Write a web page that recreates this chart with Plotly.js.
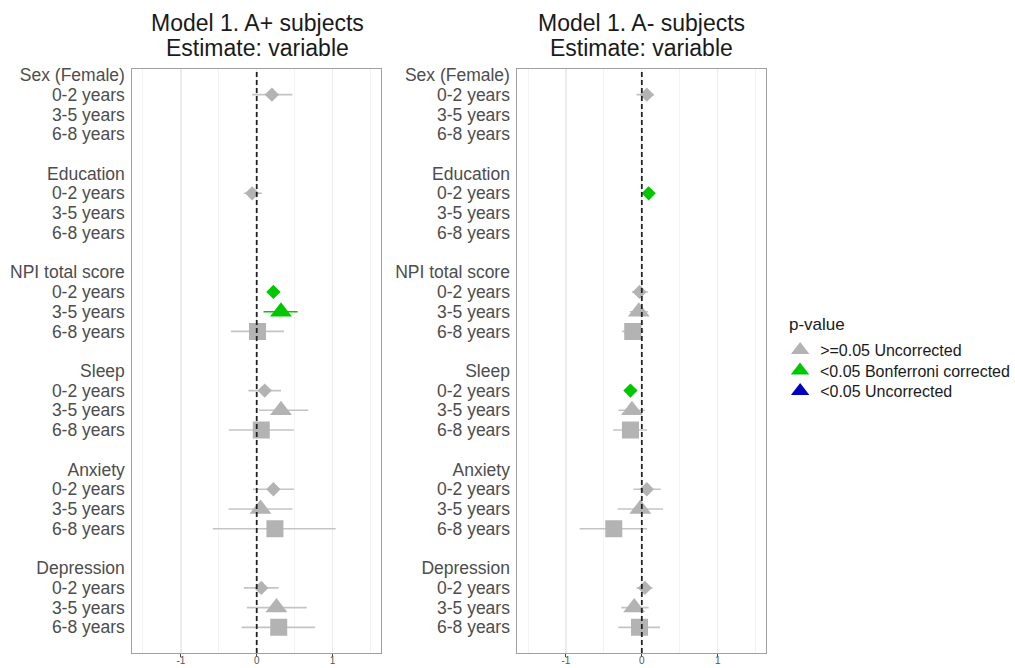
<!DOCTYPE html>
<html>
<head>
<meta charset="utf-8">
<script src="https://cdn.plot.ly/plotly-3.0.1.min.js"></script>
<style>html,body{margin:0;padding:0;background:#fff;}</style>
</head>
<body>
<div id="chart" style="width:1015px;height:668px;"></div>
<script>
// ---- data ----
const variables = ['Sex (Female)', 'Education', 'NPI total score', 'Sleep', 'Anxiety', 'Depression'];
const periods = ['0-2 years', '3-5 years', '6-8 years'];
const panelTitles = ['Model 1. A+ subjects', 'Model 1. A- subjects'];
const subTitle = 'Estimate: variable';
const legendTitle = 'p-value';
const pCategories = ['>=0.05 Uncorrected', '<0.05 Bonferroni corrected', '<0.05 Uncorrected'];
const xTicks = [-1, 0, 1];

// order: variable-major, period-minor (null = not estimated)
const estAplus = [0.20, null, null, -0.06, null, null, 0.22, 0.32, 0.01, 0.105, 0.32, 0.06, 0.22, 0.05, 0.24, 0.06, 0.26, 0.29];
const lowAplus = [-0.06, null, null, -0.17, null, null, 0.14, 0.09, -0.34, -0.11, 0.03, -0.37, -0.05, -0.37, -0.58, -0.17, -0.13, -0.20];
const highAplus = [0.47, null, null, 0.07, null, null, 0.30, 0.54, 0.36, 0.32, 0.68, 0.49, 0.49, 0.47, 1.04, 0.29, 0.66, 0.77];
const pcatAplus = [0, 0, 0, 0, 0, 0, 1, 1, 0, 0, 0, 0, 0, 0, 0, 0, 0, 0];

const estAminus = [0.066, null, null, 0.09, null, null, -0.03, -0.04, -0.12, -0.15, -0.13, -0.15, 0.066, -0.02, -0.37, 0.04, -0.10, -0.03];
const lowAminus = [-0.07, null, null, 0.03, null, null, -0.13, -0.16, -0.26, -0.22, -0.31, -0.38, -0.11, -0.32, -0.82, -0.07, -0.27, -0.31];
const highAminus = [0.16, null, null, 0.15, null, null, 0.08, 0.08, 0.02, -0.08, 0.04, 0.07, 0.25, 0.28, 0.07, 0.14, 0.09, 0.24];
const pcatAminus = [0, 0, 0, 1, 0, 0, 0, 0, 0, 1, 0, 0, 0, 0, 0, 0, 0, 0];

// ---- styles ----
const catColors = ['#b3b3b3', '#00c800', '#0000c0'];
const barColors = ['#c4c4c4', '#00c800', '#0000c0'];
const symbols = ['diamond', 'triangle-up', 'square'];
const sizes = [11, 19, 17];
const FONT = 'Liberation Sans, Arial, sans-serif';

// y rows: header then 3 periods then blank, plus trailing blank
const rowLabels = [];
variables.forEach(v => { rowLabels.push(v); periods.forEach(p => rowLabels.push(p)); rowLabels.push(''); });
const rowVals = rowLabels.map((_, i) => i);
const rowOf = (vi, pj) => vi * 5 + 1 + pj;

const panels = [
  {est: estAplus, lo: lowAplus, hi: highAplus, pc: pcatAplus, xa: 'x', ya: 'y'},
  {est: estAminus, lo: lowAminus, hi: highAminus, pc: pcatAminus, xa: 'x2', ya: 'y2'}
];

const traces = [];
panels.forEach(P => {
  periods.forEach((per, pj) => {
    [0, 1, 2].forEach(c => {
      const xs = [], ys = [], ep = [], em = [];
      variables.forEach((v, vi) => {
        const k = vi * 3 + pj;
        if (P.est[k] === null || P.pc[k] !== c) return;
        xs.push(P.est[k]); ys.push(rowOf(vi, pj));
        ep.push(P.hi[k] - P.est[k]); em.push(P.est[k] - P.lo[k]);
      });
      if (!xs.length) return;
      traces.push({
        type: 'scatter', mode: 'markers', x: xs, y: ys, xaxis: P.xa, yaxis: P.ya,
        showlegend: false, hoverinfo: 'x+y',
        marker: {symbol: symbols[pj], size: sizes[pj], color: catColors[c], line: {width: 0}},
        error_x: {type: 'data', symmetric: false, array: ep, arrayminus: em, color: barColors[c], thickness: 1.6, width: 0}
      });
    });
  });
});

const W = 1015, H = 668;
const plotTop = 69, plotBottom = 653;
const yDomain = [(H - plotBottom) / H, (H - plotTop) / H];
const xRange = [-1.64, 1.64];

// legend entries: one legend per entry so spacing matches
const legendNames = ['legend', 'legend2', 'legend3'];
const legendRowsY = [350, 370.5, 391];
pCategories.forEach((name, c) => {
  traces.push({
    type: 'scatter', mode: 'markers', x: [null], y: [null], xaxis: 'x', yaxis: 'y',
    name: name, showlegend: true, legend: legendNames[c],
    marker: {symbol: 'triangle-up', size: 16, color: catColors[c]}
  });
});
function legendAt(i) {
  return {
    x: 784 / W, y: (H - legendRowsY[i]) / H, xanchor: 'left', yanchor: 'middle',
    font: {family: FONT, size: 16, color: '#1a1a1a'},
    bgcolor: 'rgba(0,0,0,0)', borderwidth: 0, itemwidth: 30
  };
}

function xAxis(domain, anchor) {
  return {
    domain: domain, anchor: anchor, range: xRange, zeroline: false,
    tickvals: xTicks, ticktext: xTicks.map(String),
    ticks: 'outside', ticklen: 3, tickwidth: 1, tickcolor: '#444',
    ticklabelstandoff: -5,
    tickfont: {family: FONT, size: 10, color: '#555'},
    showgrid: true, gridcolor: '#ececec', gridwidth: 1.3,
    minor: {tickvals: [-1.5, -0.5, 0.5, 1.5], showgrid: true, gridcolor: '#f3f3f3', gridwidth: 1, ticks: ''},
    showline: true, mirror: true, linecolor: '#a0a0a0', linewidth: 1,
    fixedrange: true
  };
}
function yAxis(anchor) {
  return {
    domain: yDomain, anchor: anchor, range: [29.3, -0.3], zeroline: false,
    tickvals: rowVals, ticktext: rowLabels,
    ticks: 'outside', ticklen: 3, tickcolor: 'rgba(0,0,0,0)',
    tickfont: {family: FONT, size: 17.5, color: '#4d4d4d'},
    showgrid: false, showline: true, mirror: true, linecolor: '#a0a0a0', linewidth: 1,
    fixedrange: true
  };
}

const annotations = [];
[[259, panelTitles[0]], [645, panelTitles[1]]].forEach(([cx, t]) => {
  annotations.push({xref: 'paper', yref: 'paper', x: cx / W, y: (H - 23) / H, xanchor: 'center', yanchor: 'middle',
    text: t, showarrow: false, font: {family: FONT, size: 23, color: '#1a1a1a'}});
  annotations.push({xref: 'paper', yref: 'paper', x: cx / W, y: (H - 47.5) / H, xanchor: 'center', yanchor: 'middle',
    text: subTitle, showarrow: false, font: {family: FONT, size: 23, color: '#1a1a1a'}});
});
annotations.push({xref: 'paper', yref: 'paper', x: 791 / W, y: (H - 324) / H, xanchor: 'left', yanchor: 'middle',
  text: legendTitle, showarrow: false, font: {family: FONT, size: 17, color: '#1a1a1a'}});

const shapes = ['x', 'x2'].map(xr => ({
  type: 'line', xref: xr, yref: 'paper', x0: 0, x1: 0, y0: yDomain[0], y1: yDomain[1],
  line: {color: '#222', width: 1.8, dash: '5px,3px'}, layer: 'above'
}));

const layout = {
  width: W, height: H, margin: {l: 0, r: 0, t: 0, b: 0},
  paper_bgcolor: '#fff', plot_bgcolor: '#fff',
  xaxis: xAxis([133 / W, 383 / W], 'y'),
  yaxis: yAxis('x'),
  xaxis2: xAxis([520 / W, 770 / W], 'y2'),
  yaxis2: yAxis('x2'),
  showlegend: true,
  legend: legendAt(0),
  legend2: legendAt(1),
  legend3: legendAt(2),
  annotations: annotations,
  shapes: shapes,
  hovermode: false
};

Plotly.newPlot('chart', traces, layout, {displayModeBar: false, staticPlot: true});
</script>
</body>
</html>
